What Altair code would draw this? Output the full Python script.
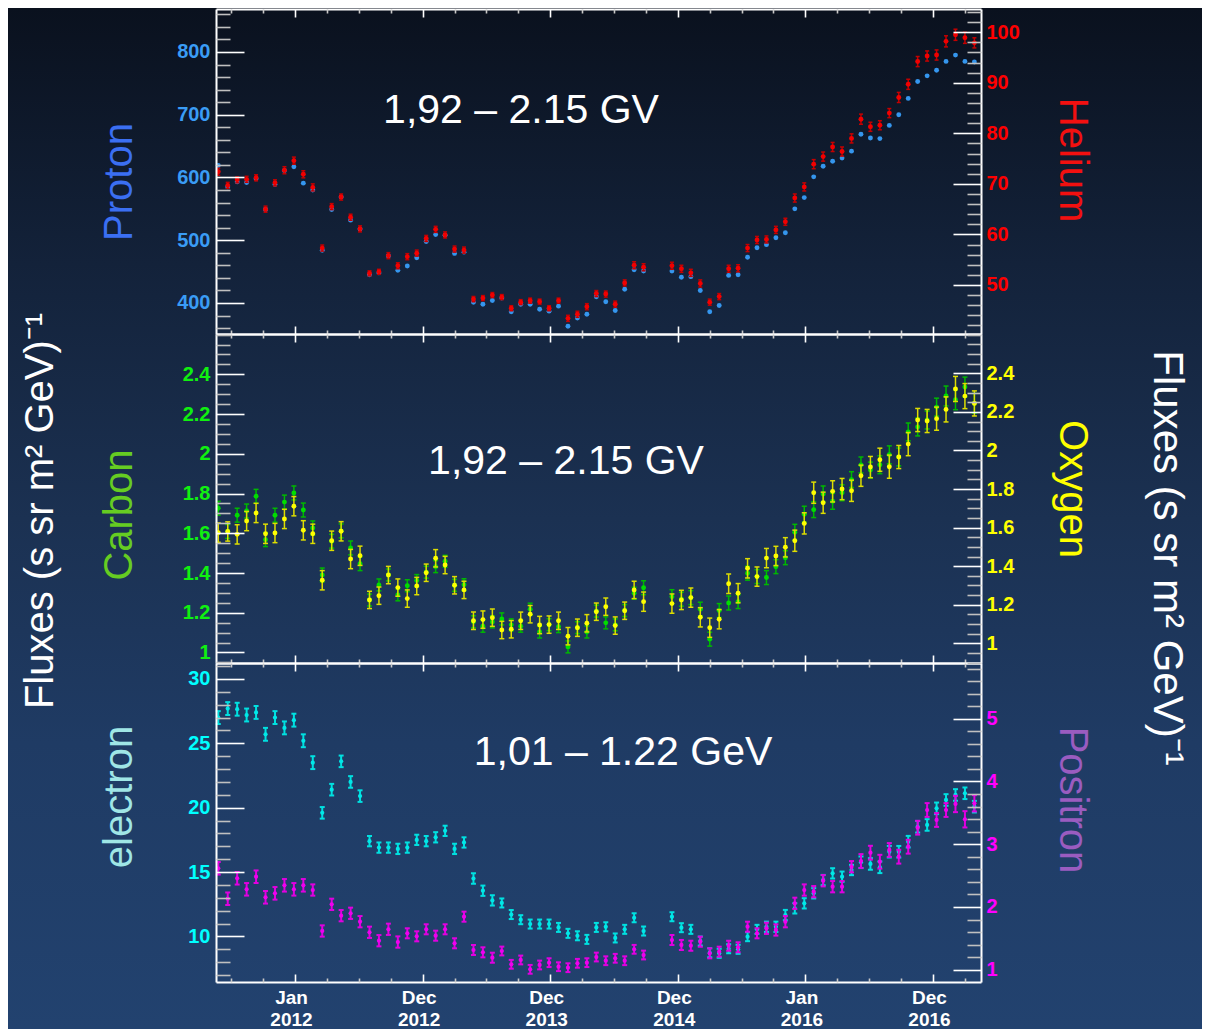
import json
import altair as alt
import pandas as pd

FONT = "Liberation Sans"

# Bartels rotations covered (2472 and 2473 have no data)
ROTATIONS = list(range(2426, 2472)) + list(range(2474, 2507))

PROTON = [619, 585, 593, 592, 598, 549, 589, 611, 617, 591,
          580, 484, 549, 569, 532, 518, 445, 448, 475, 452,
          459, 472, 498, 509, 508, 479, 481, 401, 398, 404,
          408, 386, 398, 398, 390, 387, 395, 363, 376, 382,
          410, 402, 388, 422, 453, 451,
          451, 441, 442, 420, 386, 396, 444, 445, 473, 488,
          493, 504, 512, 550, 568, 601, 618, 626, 631, 642,
          669, 663, 662, 683, 700, 726, 753, 762, 771, 785,
          795, 785, 784]

HELIUM = [72.4, 69.7, 70.8, 70.9, 71.2, 65.0, 70.2, 72.7, 74.6, 71.9,
          69.3, 57.3, 65.5, 67.4, 63.4, 61.1, 52.3, 52.6, 55.8, 53.8,
          55.6, 56.3, 59.2, 61.0, 59.9, 57.1, 56.9, 47.2, 47.4, 48.0,
          47.6, 45.4, 46.6, 46.9, 46.7, 45.4, 46.9, 43.4, 44.2, 45.7,
          48.3, 48.2, 46.2, 50.4, 53.9, 53.5,
          53.8, 53.2, 52.4, 50.3, 46.6, 47.7, 53.2, 53.3, 57.3, 58.9,
          59.0, 60.9, 62.5, 67.2, 69.4, 73.9, 75.4, 77.3, 76.4, 79.0,
          82.8, 81.3, 81.6, 84.0, 87.1, 89.7, 94.2, 95.3, 95.5, 98.2,
          99.5, 98.9, 97.9]
HELIUM_ERR = [0.7, 0.6, 0.6, 0.6, 0.6, 0.6, 0.6, 0.7, 0.7, 0.7,
              0.7, 0.6, 0.6, 0.6, 0.6, 0.6, 0.5, 0.5, 0.6, 0.6,
              0.6, 0.6, 0.6, 0.6, 0.6, 0.6, 0.6, 0.5, 0.5, 0.5,
              0.5, 0.5, 0.5, 0.5, 0.5, 0.5, 0.5, 0.6, 0.6, 0.6,
              0.6, 0.6, 0.6, 0.6, 0.7, 0.7,
              0.7, 0.7, 0.7, 0.7, 0.6, 0.6, 0.7, 0.7, 0.7, 0.7,
              0.7, 0.7, 0.7, 0.8, 0.8, 0.9, 0.9, 0.9, 0.9, 0.9,
              1.0, 0.9, 0.9, 0.9, 1.0, 1.0, 1.0, 1.0, 1.0, 1.1,
              1.1, 1.1, 1.0]

CARBON = [1.726, 1.609, 1.691, 1.712, 1.786, 1.568, 1.691, 1.757, 1.803, 1.717,
          1.627, 1.390, 1.560, 1.612, 1.526, 1.447, 1.264, 1.340, 1.390, 1.290,
          1.336, 1.362, 1.404, 1.432, 1.459, 1.338, 1.341, 1.155, 1.132, 1.154,
          1.169, 1.139, 1.132, 1.218, 1.103, 1.140, 1.130, 1.028, 1.125, 1.103,
          1.208, 1.149, 1.139, 1.211, 1.298, 1.326,
          1.281, 1.268, 1.276, 1.218, 1.067, 1.211, 1.249, 1.256, 1.399, 1.382,
          1.377, 1.432, 1.477, 1.605, 1.696, 1.719, 1.798, 1.761, 1.804, 1.870,
          1.944, 1.918, 1.945, 1.995, 1.984, 2.110, 2.135, 2.170, 2.235, 2.291,
          2.272, 2.336, 2.254]
CARBON_ERR = [0.035, 0.035, 0.035, 0.035, 0.035, 0.035, 0.035, 0.035, 0.035, 0.035,
              0.035, 0.035, 0.035, 0.035, 0.035, 0.035, 0.03, 0.03, 0.03, 0.03,
              0.03, 0.03, 0.03, 0.03, 0.03, 0.03, 0.03, 0.03, 0.03, 0.03,
              0.03, 0.03, 0.03, 0.03, 0.03, 0.03, 0.03, 0.03, 0.03, 0.03,
              0.03, 0.03, 0.03, 0.03, 0.03, 0.035,
              0.035, 0.035, 0.035, 0.035, 0.035, 0.035, 0.035, 0.035, 0.035, 0.035,
              0.035, 0.035, 0.035, 0.04, 0.04, 0.04, 0.04, 0.04, 0.04, 0.04,
              0.04, 0.04, 0.045, 0.045, 0.045, 0.045, 0.045, 0.045, 0.045, 0.05,
              0.05, 0.05, 0.05]

OXYGEN = [1.574, 1.580, 1.565, 1.634, 1.676, 1.568, 1.572, 1.645, 1.711, 1.586,
          1.568, 1.327, 1.532, 1.581, 1.437, 1.454, 1.225, 1.247, 1.354, 1.289,
          1.232, 1.297, 1.366, 1.441, 1.406, 1.301, 1.277, 1.117, 1.123, 1.133,
          1.069, 1.073, 1.117, 1.151, 1.095, 1.097, 1.117, 1.037, 1.081, 1.104,
          1.164, 1.190, 1.092, 1.169, 1.277, 1.216,
          1.206, 1.225, 1.237, 1.135, 1.081, 1.125, 1.309, 1.260, 1.389, 1.346,
          1.442, 1.453, 1.498, 1.532, 1.622, 1.781, 1.729, 1.788, 1.800, 1.791,
          1.869, 1.914, 1.952, 1.916, 1.966, 2.033, 2.158, 2.153, 2.165, 2.213,
          2.319, 2.282, 2.244]
OXYGEN_ERR = [0.05, 0.05, 0.05, 0.05, 0.05, 0.05, 0.05, 0.05, 0.05, 0.05,
              0.05, 0.05, 0.05, 0.05, 0.05, 0.05, 0.045, 0.045, 0.045, 0.045,
              0.045, 0.045, 0.045, 0.045, 0.045, 0.045, 0.045, 0.045, 0.045, 0.045,
              0.045, 0.045, 0.045, 0.045, 0.045, 0.045, 0.045, 0.045, 0.045, 0.045,
              0.045, 0.045, 0.045, 0.045, 0.045, 0.05,
              0.05, 0.05, 0.05, 0.05, 0.05, 0.05, 0.05, 0.05, 0.05, 0.05,
              0.05, 0.05, 0.05, 0.055, 0.055, 0.055, 0.055, 0.055, 0.055, 0.055,
              0.055, 0.055, 0.06, 0.06, 0.06, 0.06, 0.06, 0.06, 0.06, 0.065,
              0.065, 0.065, 0.065]

ELECTRON = [27.0, 27.7, 27.65, 27.2, 27.4, 25.7, 27.0, 26.2, 26.8, 25.2,
            23.5, 19.6, 21.4, 23.6, 22.0, 20.9, 17.4, 16.9, 16.9, 16.8,
            16.9, 17.5, 17.4, 17.7, 18.2, 16.8, 17.3, 14.5, 13.55, 12.8,
            12.6, 11.7, 11.3, 10.96, 10.96, 10.96, 10.7, 10.24, 10.05, 9.77,
            10.7, 10.75, 9.88, 10.55, 11.45, 10.42,
            11.53, 10.68, 10.55, 9.64, 8.73, 8.69, 9.04, 9.0, 9.98, 10.55,
            10.75, 10.75, 11.66, 12.18, 12.57, 13.35, 14.38, 14.9, 14.64, 15.16,
            15.76, 15.63, 15.37, 16.58, 16.58, 17.36, 18.52, 18.66, 19.95, 20.6,
            20.99, 21.12, 20.08]
ELECTRON_ERR = [0.5, 0.5, 0.5, 0.5, 0.5, 0.5, 0.5, 0.5, 0.5, 0.5,
                0.5, 0.45, 0.45, 0.45, 0.45, 0.45, 0.4, 0.4, 0.4, 0.4,
                0.4, 0.4, 0.4, 0.4, 0.4, 0.4, 0.4, 0.4, 0.4, 0.4,
                0.35, 0.35, 0.35, 0.35, 0.35, 0.35, 0.35, 0.35, 0.35, 0.35,
                0.35, 0.35, 0.35, 0.35, 0.35, 0.35,
                0.35, 0.35, 0.35, 0.35, 0.35, 0.35, 0.35, 0.35, 0.35, 0.35,
                0.4, 0.4, 0.4, 0.4, 0.4, 0.4, 0.4, 0.4, 0.4, 0.4,
                0.45, 0.45, 0.45, 0.45, 0.45, 0.45, 0.45, 0.45, 0.45, 0.45,
                0.45, 0.45, 0.45]

POSITRON = [2.616, 2.131, 2.457, 2.281, 2.482, 2.154, 2.217, 2.345, 2.281, 2.345,
            2.270, 1.617, 2.042, 1.861, 1.899, 1.765, 1.596, 1.462, 1.644, 1.441,
            1.580, 1.532, 1.644, 1.542, 1.644, 1.421, 1.845, 1.314, 1.277, 1.191,
            1.298, 1.086, 1.155, 1.006, 1.075, 1.112, 1.048, 1.032, 1.102, 1.112,
            1.202, 1.143, 1.182, 1.143, 1.325, 1.234,
            1.473, 1.394, 1.382, 1.446, 1.261, 1.287, 1.382, 1.357, 1.685, 1.580,
            1.660, 1.633, 1.765, 2.058, 2.270, 2.243, 2.418, 2.323, 2.323, 2.641,
            2.732, 2.865, 2.721, 2.908, 2.801, 2.960, 3.263, 3.545, 3.386, 3.545,
            3.641, 3.397, 3.652]
POSITRON_ERR = [0.1, 0.1, 0.1, 0.1, 0.1, 0.1, 0.1, 0.1, 0.1, 0.1,
                0.09, 0.09, 0.09, 0.09, 0.09, 0.09, 0.09, 0.09, 0.09, 0.09,
                0.08, 0.08, 0.08, 0.08, 0.08, 0.08, 0.08, 0.08, 0.08, 0.08,
                0.07, 0.07, 0.07, 0.07, 0.07, 0.07, 0.07, 0.07, 0.07, 0.07,
                0.07, 0.07, 0.07, 0.07, 0.07, 0.07,
                0.08, 0.08, 0.08, 0.08, 0.08, 0.08, 0.08, 0.08, 0.08, 0.08,
                0.09, 0.09, 0.09, 0.09, 0.09, 0.09, 0.09, 0.09, 0.09, 0.09,
                0.11, 0.11, 0.11, 0.11, 0.11, 0.11, 0.11, 0.11, 0.11, 0.11,
                0.13, 0.13, 0.13]

X_TICK_LABELS = [["Jan", "2012"], ["Dec", "2012"], ["Dec", "2013"],
                 ["Dec", "2014"], ["Jan", "2016"], ["Dec", "2016"]]
RIGIDITY_LABEL = "1,92 \u2013 2.15 GV"
ENERGY_LABEL = "1,01 \u2013 1.22 GeV"
FLUX_TITLE = "Fluxes (s sr m\u00b2 GeV)\u207b\u00b9"

# ---------------- layout constants ----------------
W = 765
H = 973
TOP_Y = (0, 325)
MID_Y = (325, 654)
BOT_Y = (654, 973)

X_DOMAIN = [2425.76, 2506.7]
X_MAJOR = [2434.12, 2447.62, 2461.12, 2474.62, 2488.12, 2501.62]
_step = 13.5 / 4
X_MINOR = [round(m + k * _step, 3) for m in [X_MAJOR[0] - 13.5] + X_MAJOR for k in (1, 2, 3)]
X_MINOR = [v for v in X_MINOR if X_DOMAIN[0] < v < X_DOMAIN[1]]

x_scale = alt.Scale(domain=X_DOMAIN, nice=False, zero=False)


def frange(a, b, step):
    n = int(round((b - a) / step))
    return [round(a + i * step, 6) for i in range(n + 1)]


def minors(a, b, step, majors):
    return [v for v in frange(a, b, step) if all(abs(v - m) > 1e-9 for m in majors)]


AX_DATA = pd.DataFrame({"v": [2430.0]})


def x_axis_layer(axis):
    return alt.Chart(AX_DATA).mark_point(opacity=0).encode(
        x=alt.X("v:Q", scale=x_scale, axis=axis))


def x_tick_layers(band):
    y0, y1 = band
    out = []
    # top edge of the band: ticks pointing down
    for vals, size, col, dom in ((X_MAJOR, 8, "white", True), (X_MINOR, 4, "#c8c8c8", False)):
        out.append(x_axis_layer(alt.Axis(orient="bottom", offset=y0 - H, values=vals, labels=False,
                                         domain=dom, domainColor="white", domainWidth=2,
                                         tickSize=size, tickColor=col, tickWidth=1.6,
                                         grid=False, title=None, zindex=2)))
    # bottom edge of the band: ticks pointing up
    for vals, size, col, dom in ((X_MAJOR, 8, "white", True), (X_MINOR, 4, "#c8c8c8", False)):
        out.append(x_axis_layer(alt.Axis(orient="top", offset=-y1, values=vals, labels=False,
                                         domain=dom, domainColor="white", domainWidth=2,
                                         tickSize=size, tickColor=col, tickWidth=1.6,
                                         grid=False, title=None, zindex=2)))
    return out


def x_label_layer():
    bounds = [(X_MAJOR[i] + X_MAJOR[i + 1]) / 2 for i in range(len(X_MAJOR) - 1)]
    expr = "".join(f"datum.value < {b} ? {json.dumps(lab)} : "
                   for b, lab in zip(bounds, X_TICK_LABELS[:-1])) + json.dumps(X_TICK_LABELS[-1])
    return x_axis_layer(alt.Axis(orient="bottom", values=X_MAJOR, labelExpr=expr, ticks=False,
                                 tickSize=0, domain=False, grid=False, labelColor="white",
                                 labelFont=FONT, labelFontWeight="bold", labelFontSize=19,
                                 labelLineHeight=22, labelPadding=6, labelOffset=-4,
                                 labelFlush=False, labelOverlap=False, title=None, zindex=2))


def series(values, errs, domain, band, majors, minor_vals, side, label_color, color,
           err_color, point_size, err_width, cap_size):
    df = pd.DataFrame({"br": ROTATIONS, "v": values})
    if errs is not None:
        df["lo"] = [v - e for v, e in zip(values, errs)]
        df["hi"] = [v + e for v, e in zip(values, errs)]
    scale = alt.Scale(domain=domain, range=[band[1], band[0]], nice=False, zero=False)
    xenc = alt.X("br:Q", scale=x_scale, axis=None)
    inner = "right" if side == "left" else "left"
    lab_axis = alt.Axis(orient=side, values=majors, format="~r", ticks=False, tickSize=0,
                        domain=False, grid=False, labelColor=label_color, labelFont=FONT,
                        labelFontSize=20, labelFontWeight="bold",
                        labelPadding=6 if side == "left" else 5,
                        labelFlush=False, labelOverlap=False, title=None, zindex=2)
    major_axis = alt.Axis(orient=inner, offset=-W, values=majors, labels=False, domain=True,
                          domainColor="white", domainWidth=2, tickSize=28, tickColor="white",
                          tickWidth=1.6, grid=False, title=None, zindex=2)
    minor_axis = alt.Axis(orient=inner, offset=-W, values=minor_vals, labels=False, domain=False,
                          tickSize=14, tickColor="#c0c0c0", tickWidth=1.6, grid=False,
                          title=None, zindex=2)
    base = alt.Chart(df)
    layers = [base.mark_point(opacity=0).encode(x=xenc, y=alt.Y("v:Q", scale=scale, axis=ax))
              for ax in (lab_axis, major_axis, minor_axis)]
    if errs is not None:
        layers.append(base.mark_rule(color=err_color, strokeWidth=err_width).encode(
            x=xenc, y=alt.Y("lo:Q", scale=scale, axis=None), y2="hi:Q"))
        for f in ("lo", "hi"):
            layers.append(base.mark_tick(orient="horizontal", color=err_color, size=cap_size,
                                         thickness=err_width, opacity=1).encode(
                x=xenc, y=alt.Y(f"{f}:Q", scale=scale, axis=None)))
    layers.append(base.mark_circle(color=color, size=point_size, opacity=1).encode(
        x=xenc, y=alt.Y("v:Q", scale=scale, axis=None)))
    return layers


def text_layer(text, x, y, angle, color, size=40):
    return alt.Chart(alt.Data(values=[{"t": text}])).mark_text(
        angle=angle, align="center", baseline="alphabetic", font=FONT, fontSize=size,
        color=color).encode(x=alt.value(x), y=alt.value(y), text="t:N")


BG_STOPS = [(0.0, "#0a111e"), (0.25, "#13223a"), (0.5, "#1b3152"), (0.72, "#1f3b64"),
            (1.0, "#22426f")]
bg = alt.Chart(alt.Data(values=[{"t": "bg"}])).mark_rect(
    fill=alt.LinearGradient(gradient="linear",
                            stops=[alt.GradientStop(color=c, offset=o) for o, c in BG_STOPS],
                            x1=0, x2=0, y1=0, y2=1)
).encode(x=alt.value(-208), x2=alt.value(W + 221), y=alt.value(-1), y2=alt.value(1020))

P_MAJ = [400, 500, 600, 700, 800]
HE_MAJ = [50, 60, 70, 80, 90, 100]
C_MAJ = frange(1.0, 2.4, 0.2)
E_MAJ = [10, 15, 20, 25, 30]
PO_MAJ = [1, 2, 3, 4, 5]

layers = [
    bg,
    *series(PROTON, None, [350.6, 868.5], TOP_Y, P_MAJ, minors(360, 860, 20, P_MAJ), "left",
            "#3a9cf5", "#3596ee", "#3596ee", 24, 1.5, 4),
    *series(HELIUM, HELIUM_ERR, [40.3, 104.6], TOP_Y, HE_MAJ, minors(42, 104, 2, HE_MAJ), "right",
            "#ff0000", "#f20000", "#c40000", 24, 1.5, 4),
    *series(CARBON, CARBON_ERR, [0.947, 2.603], MID_Y, C_MAJ, minors(0.95, 2.6, 0.05, C_MAJ),
            "left", "#10f010", "#00dd00", "#00b800", 24, 1.5, 5),
    *series(OXYGEN, OXYGEN_ERR, [0.898, 2.604], MID_Y, C_MAJ, minors(0.9, 2.6, 0.05, C_MAJ),
            "right", "#ffff00", "#ffff00", "#dede00", 24, 1.5, 5),
    *series(ELECTRON, ELECTRON_ERR, [6.46, 31.24], BOT_Y, E_MAJ, minors(7, 31, 1, E_MAJ), "left",
            "#00ffff", "#00e8e8", "#00e0e0", 18, 2, 5),
    *series(POSITRON, POSITRON_ERR, [0.804, 5.888], BOT_Y, PO_MAJ, minors(1.0, 5.8, 0.2, PO_MAJ),
            "right", "#ff00ff", "#f000f0", "#e000e0", 18, 2, 5),
    *x_tick_layers(TOP_Y),
    *x_tick_layers(MID_Y),
    *x_tick_layers(BOT_Y),
    x_label_layer(),
    text_layer("Proton", -84, 173, 270, "#3b6ff2"),
    text_layer("Helium", 844, 151, 90, "#f21010"),
    text_layer(RIGIDITY_LABEL, 305, 114, 0, "white", 41),
    text_layer("Carbon", -84, 506, 270, "#66cc22"),
    text_layer("Oxygen", 844, 480, 90, "#ffff00"),
    text_layer(RIGIDITY_LABEL, 350, 465, 0, "white", 41),
    text_layer("electron", -84, 788, 270, "#9fe6e6"),
    text_layer("Positron", 844, 791, 90, "#9a5cc0"),
    text_layer(ENERGY_LABEL, 407, 756, 0, "white", 41),
    text_layer(FLUX_TITLE, -163, 502, 270, "white", 40),
    text_layer(FLUX_TITLE, 938, 549, 90, "white", 42),
]

chart = alt.layer(*layers).resolve_scale(y="independent").resolve_axis(
    x="independent", y="independent").properties(
    width=W, height=H, background="#22426f",
    padding={"left": 0, "top": 0, "right": 0, "bottom": 0}
).configure_view(strokeWidth=0)

chart.save("out.html", embed_options={"renderer": "svg", "actions": False})
